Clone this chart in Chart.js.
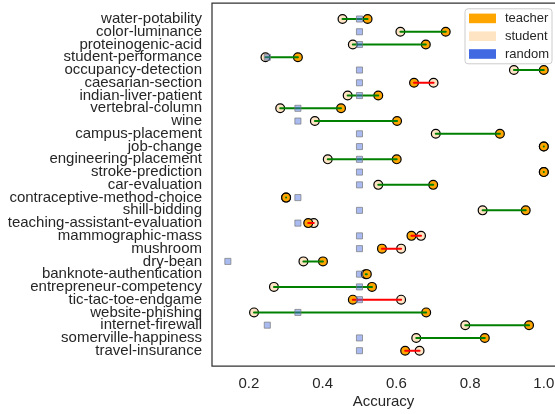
<!DOCTYPE html>
<html>
<head>
<meta charset="utf-8">
<script src="https://cdn.jsdelivr.net/npm/chart.js@4"></script>
<style>
html,body{margin:0;padding:0;background:#fff;overflow:hidden;}
#wrap{width:555px;height:414px;}
</style>
</head>
<body>
<div id="wrap"><canvas id="c" width="555" height="414"></canvas></div>
<script>
const categories = ["water-potability","color-luminance","proteinogenic-acid","student-performance","occupancy-detection","caesarian-section","indian-liver-patient","vertebral-column","wine","campus-placement","job-change","engineering-placement","stroke-prediction","car-evaluation","contraceptive-method-choice","shill-bidding","teaching-assistant-evaluation","mammographic-mass","mushroom","dry-bean","banknote-authentication","entrepreneur-competency","tic-tac-toe-endgame","website-phishing","internet-firewall","somerville-happiness","travel-insurance"];
const teacher = [0.522,0.734,0.680,0.333,1.000,0.648,0.551,0.450,0.602,0.881,1.000,0.601,1.000,0.700,0.301,0.951,0.361,0.641,0.561,0.401,0.520,0.534,0.482,0.681,0.960,0.840,0.624];
const student = [0.454,0.611,0.482,0.245,0.919,0.701,0.468,0.285,0.379,0.707,1.000,0.414,1.000,0.551,0.301,0.834,0.376,0.667,0.613,0.348,0.517,0.268,0.613,0.214,0.787,0.654,0.663];
const randomAcc = [0.5,0.5,0.5,0.25,0.5,0.5,0.5,0.333,0.333,0.5,0.5,0.5,0.5,0.5,0.333,0.5,0.333,0.5,0.5,0.143,0.5,0.5,0.5,0.333,0.25,0.5,0.5];
const xTicks = [0.2,0.4,0.6,0.8,1.0];
const legendItems = [["teacher","#FFA500"],["student","#FFE4C4"],["random","#4169E1"]];

const FONT = "'Liberation Sans', Arial, Helvetica, sans-serif";
const TXT = "#262626";

const pts = (arr) => arr.map((v,i)=>({x:v,y:i}));
const segData = [];
categories.forEach((c,i)=>{
  segData.push({x:student[i],y:i});
  segData.push({x:teacher[i],y:i});
  segData.push({x:null,y:null});
});

const framePlugin = {
  id:'frame',
  afterDatasetsDraw(chart){
    const {ctx, chartArea:a} = chart;
    ctx.save();
    ctx.strokeStyle = '#333333';
    ctx.lineWidth = 1.25;
    ctx.beginPath();
    ctx.moveTo(a.right + 2, a.top);
    ctx.lineTo(a.left, a.top);
    ctx.lineTo(a.left, a.bottom);
    ctx.lineTo(a.right + 2, a.bottom);
    ctx.stroke();
    // legend
    const lx = a.right - 90, ly = a.top + 5.8, lw = 87, lh = 55;
    ctx.beginPath();
    if (ctx.roundRect) ctx.roundRect(lx, ly, lw, lh, 3); else ctx.rect(lx,ly,lw,lh);
    ctx.fillStyle = 'rgba(255,255,255,0.85)';
    ctx.fill();
    ctx.strokeStyle = '#cccccc';
    ctx.lineWidth = 1;
    ctx.stroke();
    ctx.font = "13px " + FONT;
    ctx.textBaseline = 'middle';
    ctx.textAlign = 'left';
    legendItems.forEach((it,k)=>{
      const cy = ly + 9.6 + k*17.8;
      ctx.fillStyle = it[1];
      ctx.fillRect(lx+4, cy-4.8, 27, 9.6);
      ctx.fillStyle = TXT;
      ctx.fillText(it[0], lx+40, cy+0.5);
    });
    ctx.restore();
  }
};

new Chart(document.getElementById('c'), {
  type:'scatter',
  data:{
    datasets:[
      {label:'random', data:pts(randomAcc), pointStyle:'rect', pointRadius:4.3,
       backgroundColor:'rgba(65,105,225,0.45)', borderColor:'rgba(120,120,120,0.7)', borderWidth:1},
      {label:'diff', data:segData, showLine:true, pointRadius:0, borderWidth:2,
       borderCapStyle:'round', tension:0.0001, spanGaps:false,
       segment:{borderColor:(ctx)=>{const r=Math.floor(ctx.p0DataIndex/3);return teacher[r]>=student[r]?'#008000':'#FF0000';}}},
      {label:'teacher', data:pts(teacher), pointRadius:4.4, backgroundColor:'#FFA500', borderColor:'#000', borderWidth:1.2},
      {label:'student', data:pts(student), pointRadius:4.4, backgroundColor:'#FFE4C4', borderColor:'#000', borderWidth:1.2}
    ]
  },
  options:{
    responsive:false, animation:false,
    layout:{autoPadding:false, padding:{top:3,right:0,left:0,bottom:0}},
    plugins:{legend:{display:false}, tooltip:{enabled:false}},
    scales:{
      x:{type:'linear', min:0.1, max:1.0304,
         grid:{display:false, drawTicks:false}, border:{display:false},
         afterBuildTicks:(s)=>{s.ticks = xTicks.map(v=>({value:v}));},
         afterFit:(s)=>{s.height = 48; s.paddingLeft = 0; s.paddingRight = 0;},
         ticks:{padding:9, color:TXT, font:{family:FONT,size:15}, callback:(v)=>Number(v).toFixed(1)},
         title:{display:true, text:'Accuracy', color:TXT, font:{family:FONT,size:15}, padding:{top:0,bottom:3}}},
      y:{type:'linear', reverse:true, min:-1.254, max:27.2,
         grid:{display:false, drawTicks:false}, border:{display:false},
         afterBuildTicks:(s)=>{s.ticks = categories.map((c,i)=>({value:i}));},
         afterFit:(s)=>{s.width = 212; s.paddingTop = 0; s.paddingBottom = 0;},
         ticks:{padding:10, autoSkip:false, color:TXT, font:{family:FONT,size:15}, callback:(v)=>categories[v]}}
    }
  },
  plugins:[framePlugin]
});
</script>
</body>
</html>
